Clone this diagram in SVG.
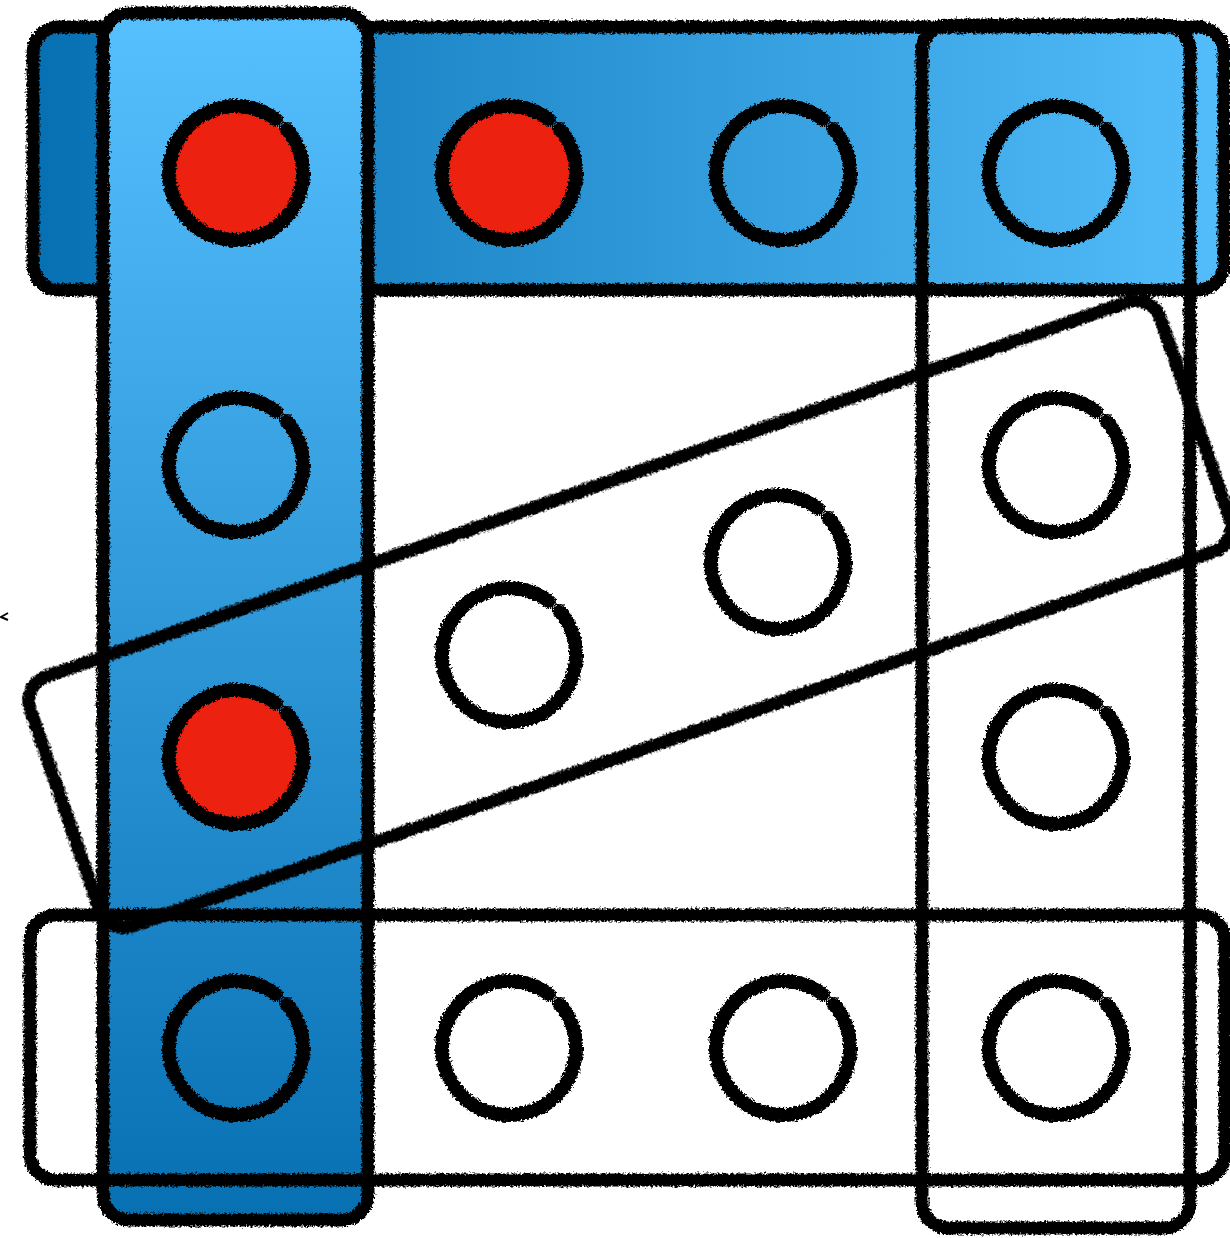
<svg xmlns="http://www.w3.org/2000/svg" xmlns:xlink="http://www.w3.org/1999/xlink" width="1230" height="1238" viewBox="0 0 1230 1238">
<style>
.edge{fill:none;stroke:#000;stroke-width:13;stroke-linejoin:round;filter:url(#rough)}
.ring{fill:none;stroke:#000;stroke-width:14;stroke-linecap:round;filter:url(#rough)}
.red{fill:#ec210f}
</style>
<defs>
<linearGradient id="gH" x1="0" y1="0" x2="1" y2="0">
<stop offset="0" stop-color="#0670b3"/>
<stop offset="1" stop-color="#53bdfb"/>
</linearGradient>
<linearGradient id="gV" x1="0" y1="0" x2="0" y2="1">
<stop offset="0" stop-color="#56c0ff"/>
<stop offset="1" stop-color="#0670b3"/>
</linearGradient>
<filter id="rough" x="-10%" y="-10%" width="120%" height="120%">
<feTurbulence type="fractalNoise" baseFrequency="0.45" numOctaves="2" seed="4" result="n"/>
<feDisplacementMap in="SourceGraphic" in2="n" scale="6" xChannelSelector="R" yChannelSelector="G"/>
</filter>
<path id="ringp" d="M50.5,-44 A67,67 0 1 1 40,-53.7"/>
</defs>

<g id="bar-top">
<rect x="33" y="27" width="1191" height="263" rx="26" fill="url(#gH)"/>
<rect class="edge" x="33" y="27" width="1191" height="263" rx="26"/>
</g>
<g id="bar-left">
<rect x="103" y="13" width="265" height="1207" rx="26" fill="url(#gV)"/>
<rect class="edge" x="103" y="13" width="265" height="1207" rx="26"/>
</g>
<g id="bar-right">
<rect class="edge" x="922" y="25" width="268" height="1203" rx="26"/>
</g>
<g id="bar-bottom">
<rect class="edge" x="30" y="915" width="1195" height="265" rx="26"/>
</g>
<g id="bar-diagonal" transform="translate(630 614) rotate(-19.1)">
<rect class="edge" x="-598" y="-132" width="1196" height="264" rx="26"/>
</g>

<g id="nodes">
<g id="c11"><circle class="red" cx="236" cy="173" r="62"/><use href="#ringp" class="ring" x="236" y="173"/></g>
<g id="c12"><circle class="red" cx="509" cy="173" r="62"/><use href="#ringp" class="ring" x="509" y="173"/></g>
<g id="c13"><use href="#ringp" class="ring" x="783" y="173"/></g>
<g id="c14"><use href="#ringp" class="ring" x="1056" y="173"/></g>
<g id="c21"><use href="#ringp" class="ring" x="236" y="465"/></g>
<g id="c24"><use href="#ringp" class="ring" x="1056" y="465"/></g>
<g id="d2"><use href="#ringp" class="ring" x="509" y="655"/></g>
<g id="d3"><use href="#ringp" class="ring" x="778" y="562"/></g>
<g id="c31"><circle class="red" cx="236" cy="757" r="62"/><use href="#ringp" class="ring" x="236" y="757"/></g>
<g id="c34"><use href="#ringp" class="ring" x="1056" y="757"/></g>
<g id="c41"><use href="#ringp" class="ring" x="236" y="1048"/></g>
<g id="c42"><use href="#ringp" class="ring" x="509" y="1048"/></g>
<g id="c43"><use href="#ringp" class="ring" x="783" y="1048"/></g>
<g id="c44"><use href="#ringp" class="ring" x="1056" y="1048"/></g>
</g>
<g id="connectors"/>
<path d="M8,613 L1,617 L8,620" fill="none" stroke="#000" stroke-width="2"/>
</svg>
